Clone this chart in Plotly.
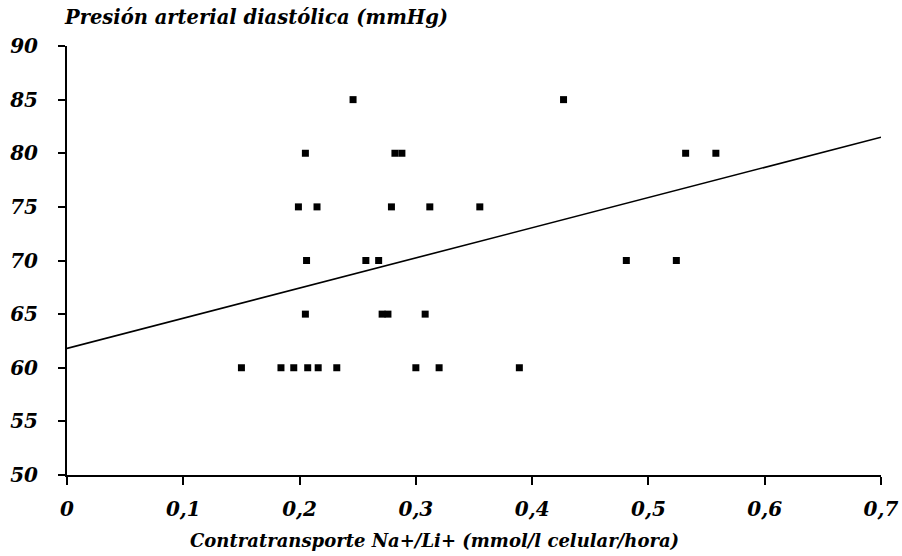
import plotly.graph_objects as go

# Data
x_vals = [0.150, 0.184, 0.195, 0.207, 0.216, 0.232, 0.300, 0.320, 0.389,   # 60
          0.205, 0.271, 0.276, 0.308,                                      # 65
          0.206, 0.257, 0.268, 0.481, 0.524,                               # 70
          0.199, 0.215, 0.279, 0.312, 0.355,                               # 75
          0.205, 0.282, 0.288, 0.532, 0.558,                               # 80
          0.246, 0.427]                                                     # 85
y_vals = [60]*9 + [65]*4 + [70]*5 + [75]*5 + [80]*5 + [85]*2

fit_x = [0.0, 0.7]
fit_y = [61.8, 81.5]

x_ticks = [0, 0.1, 0.2, 0.3, 0.4, 0.5, 0.6, 0.7]
x_tick_text = ["<b><i>%s</i></b>" % t for t in ["0", "0,1", "0,2", "0,3", "0,4", "0,5", "0,6", "0,7"]]
y_ticks = [50, 55, 60, 65, 70, 75, 80, 85, 90]
y_tick_text = ["<b><i>%d</i></b>" % v for v in y_ticks]

FONT = "DejaVu Serif"

fig = go.Figure()
fig.add_trace(go.Scatter(x=fit_x, y=fit_y, mode="lines",
                         line=dict(color="black", width=1.6), hoverinfo="skip"))
fig.add_trace(go.Scatter(x=x_vals, y=y_vals, mode="markers",
                         marker=dict(symbol="square", size=7, color="black",
                                     line=dict(width=0))))

tickfont = dict(family=FONT, size=20, color="black")

fig.update_layout(
    width=902, height=556,
    margin=dict(l=67, r=21, t=46, b=81, autoexpand=False),
    paper_bgcolor="white", plot_bgcolor="white",
    showlegend=False,
    xaxis=dict(range=[0, 0.7], tickvals=x_ticks, ticktext=x_tick_text,
               showgrid=False, zeroline=False, showline=True, linecolor="black",
               linewidth=2, ticks="outside", ticklen=8, tickwidth=1.5,
               tickcolor="black", tickfont=tickfont, ticklabelstandoff=7,
               automargin=False),
    yaxis=dict(range=[50, 90], tickvals=y_ticks, ticktext=y_tick_text,
               showgrid=False, zeroline=False, showline=True, linecolor="black",
               linewidth=2, ticks="outside", ticklen=7, tickwidth=1.5,
               tickcolor="black", tickfont=tickfont, ticklabelstandoff=16,
               automargin=False),
    annotations=[
        dict(text="<b><i>Presión arterial diastólica (mmHg)</i></b>", xref="paper", yref="paper",
             x=-0.006, y=1.0, yshift=29, xanchor="left", yanchor="middle",
             showarrow=False,
             font=dict(family=FONT, size=19.5, color="black")),
        dict(text="<b><i>Contratransporte Na+/Li+ (mmol/l celular/hora)</i></b>", xref="paper", yref="paper",
             x=0.452, y=0, yshift=-65, xanchor="center", yanchor="middle",
             showarrow=False,
             font=dict(family=FONT, size=18, color="black")),
    ],
)

fig.write_html("out.html")
